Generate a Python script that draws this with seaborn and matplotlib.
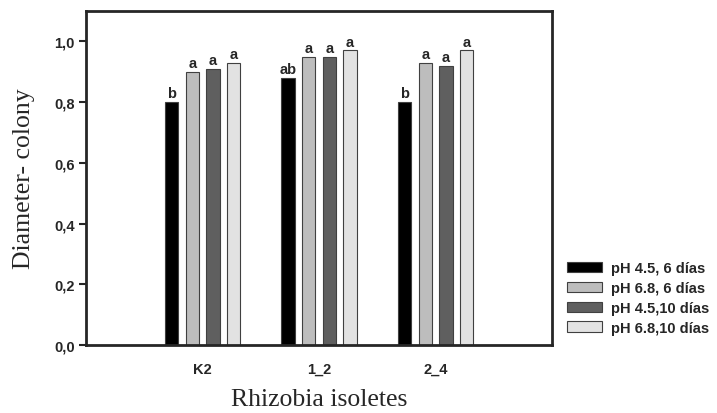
import numpy as np
import pandas as pd
import matplotlib
matplotlib.use("Agg")
import matplotlib.pyplot as plt
import seaborn as sns

isolates = ["K2", "1_2", "2_4"]
treatments = ["pH 4.5, 6 días", "pH 6.8, 6 días", "pH 4.5,10 días", "pH 6.8,10 días"]
ph45_6 = [0.80, 0.88, 0.80]
ph68_6 = [0.90, 0.95, 0.93]
ph45_10 = [0.91, 0.95, 0.92]
ph68_10 = [0.93, 0.97, 0.97]
letters = [["b", "ab", "b"], ["a", "a", "a"], ["a", "a", "a"], ["a", "a", "a"]]
colors = ["#000000", "#bdbdbd", "#5f5f5f", "#e2e2e2"]

rows = []
for t, vals in zip(treatments, [ph45_6, ph68_6, ph45_10, ph68_10]):
    for iso, v in zip(isolates, vals):
        rows.append({"isolate": iso, "treatment": t, "value": v})
df = pd.DataFrame(rows)

sns.set_style("ticks")
plt.rcParams['font.family'] = ['Liberation Sans', 'DejaVu Sans']

fig = plt.figure(figsize=(7.17, 4.14), dpi=100)
ax = fig.add_axes([0.12, 0.164, 0.65, 0.807])
sns.barplot(data=df, x="isolate", y="value", hue="treatment", order=isolates,
            hue_order=treatments, palette=colors, width=0.71, gap=0.36,
            edgecolor="#404040", linewidth=0.8, ax=ax)

for cont, labs in zip(ax.containers, letters):
    for bar, lab in zip(cont, labs):
        ax.text(bar.get_x() + bar.get_width() / 2, bar.get_height() + 0.006, lab,
                ha="center", va="bottom", fontsize=10.5, fontweight="bold")

ax.set_xlim(-1, 3)
ax.set_ylim(0, 1.1)
ax.set_yticks([0, 0.2, 0.4, 0.6, 0.8, 1.0])
ax.set_yticklabels(["0,0", "0,2", "0,4", "0,6", "0,8", "1,0"])
for lbl in ax.get_xticklabels() + ax.get_yticklabels():
    lbl.set_fontweight("bold")
    lbl.set_fontsize(10.5)
ax.tick_params(axis="x", length=0, pad=12)
ax.tick_params(axis="y", length=5, width=1.5, pad=3)
for s in ax.spines.values():
    s.set_visible(True)
    s.set_linewidth(2)

ax.set_xlabel("Rhizobia isoletes", family="Liberation Serif", fontsize=18.5, labelpad=9)
ax.set_ylabel("Diameter- colony", family="Liberation Serif", fontsize=18.5, labelpad=14)

ax.legend(loc="center left", bbox_to_anchor=(0.791, 0.278), bbox_transform=fig.transFigure,
          frameon=False, handlelength=2.4, handleheight=0.7, handletextpad=0.6,
          labelspacing=0.4, prop={"weight": "bold", "size": 10.5}, borderaxespad=0,
          borderpad=0)

fig.savefig("out.png", dpi=100)
